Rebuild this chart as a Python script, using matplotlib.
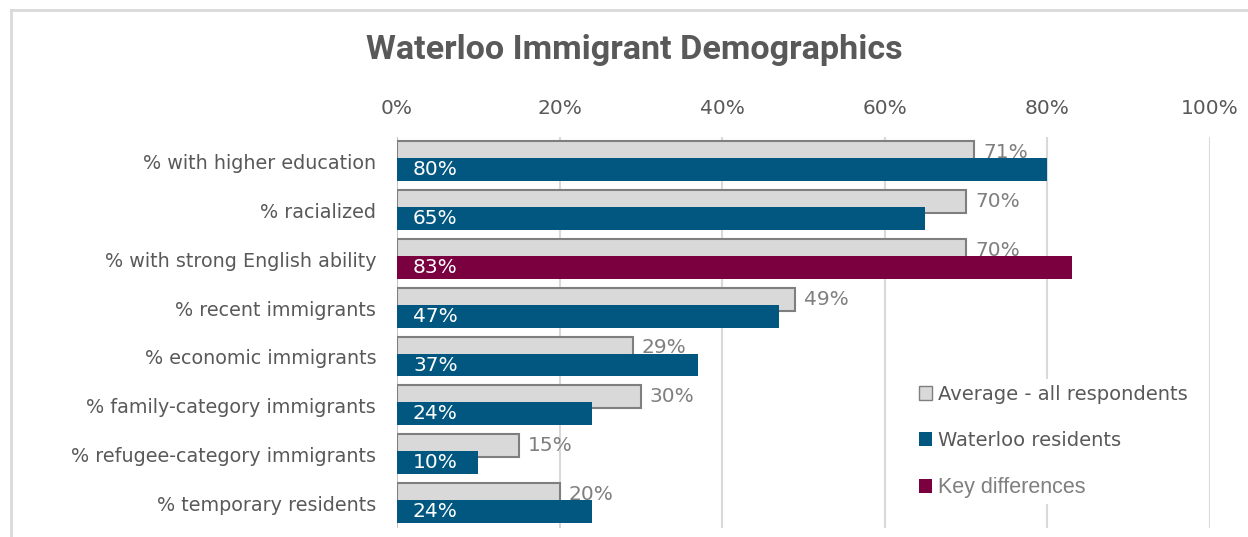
import matplotlib
matplotlib.use("Agg")
import matplotlib.pyplot as plt
from matplotlib.patches import Patch
from matplotlib.lines import Line2D

categories = [
    "% with higher education",
    "% racialized",
    "% with strong English ability",
    "% recent immigrants",
    "% economic immigrants",
    "% family-category immigrants",
    "% refugee-category immigrants",
    "% temporary residents",
]
average_all = [71, 70, 70, 49, 29, 30, 15, 20]
waterloo = [80, 65, 83, 47, 37, 24, 10, 24]
key_difference = [False, False, True, False, False, False, False, False]
x_ticks = [0, 20, 40, 60, 80, 100]
x_tick_labels = ["0%", "20%", "40%", "60%", "80%", "100%"]

FONT = "DejaVu Sans"
GREY_FILL = "#d9d9d9"
GREY_EDGE = "#7f7f7f"
BLUE = "#01577f"
MAROON = "#7a0040"
TXT = "#595959"

fig = plt.figure(figsize=(12.48, 5.37), dpi=100)
ax = fig.add_axes([397 / 1248, 1 - 528 / 537, (1210 - 397) / 1248, (528 - 137) / 537])

ypos = list(range(len(categories)))
h = 0.47
grey_y = [y - 0.183 for y in ypos]
blue_y = [y + 0.165 for y in ypos]

ax.barh(grey_y, average_all, height=h, color=GREY_FILL, edgecolor=GREY_EDGE, linewidth=1.5, zorder=2)
colors = [MAROON if k else BLUE for k in key_difference]
ax.barh(blue_y, waterloo, height=h, color=colors, edgecolor="none", zorder=3)

for y, v in zip(grey_y, average_all):
    ax.annotate(f"{v}%", (v, y), xytext=(6.5, 0), textcoords="offset points",
                ha="left", va="center", fontsize=14.5, color=GREY_EDGE, family=FONT, zorder=4)
for y, v in zip(blue_y, waterloo):
    ax.annotate(f"{v}%", (0, y), xytext=(11.5, 0), textcoords="offset points",
                ha="left", va="center", fontsize=14.5, color="white", family=FONT, zorder=4)

ax.set_xlim(0, 100)
ax.set_ylim(len(categories) - 0.5, -0.5)
ax.set_xticks(x_ticks)
ax.set_xticklabels(x_tick_labels, fontsize=14.5, color=TXT, family=FONT)
ax.xaxis.tick_top()
ax.tick_params(axis="x", length=0, pad=14)
ax.set_yticks(ypos)
ax.set_yticklabels(categories, fontsize=13.8, color=TXT, family=FONT)
ax.tick_params(axis="y", length=0, pad=15)
ax.grid(axis="x", color="#d9d9d9", linewidth=1.5, zorder=0)
ax.set_axisbelow(True)
for s in ax.spines.values():
    s.set_visible(False)
ax.axvline(0, color="#bfbfbf", linewidth=1.2, zorder=1)

fig.text(634 / 1248, 1 - 50 / 537, "Waterloo Immigrant Demographics", ha="center", va="center",
         fontsize=24.6, fontweight="bold", color=TXT, family="Roboto")

# chart frame
fig.add_artist(Line2D([11 / 1248, 1.0], [1 - 10 / 537] * 2, color="#d9d9d9", linewidth=2, transform=fig.transFigure))
fig.add_artist(Line2D([11 / 1248] * 2, [0, 1 - 10 / 537], color="#d9d9d9", linewidth=2, transform=fig.transFigure))

handles = [
    Patch(facecolor=GREY_FILL, edgecolor=GREY_EDGE, linewidth=1),
    Patch(facecolor=BLUE, edgecolor="none"),
    Patch(facecolor=MAROON, edgecolor="none"),
]
labels = ["Average - all respondents", "Waterloo residents", "Key differences"]
leg = fig.legend(handles, labels, loc="upper left", bbox_to_anchor=(903 / 1248, 1 - 369 / 537),
                 frameon=True, facecolor="white", edgecolor="none", framealpha=1,
                 handlelength=0.7, handleheight=0.7, handletextpad=0.3, labelspacing=1.4,
                 borderpad=0.3, prop={"family": FONT, "size": 14})
for t in leg.get_texts():
    t.set_color(TXT)
leg.get_texts()[2].set_color("#7f7f7f")
leg.get_texts()[2].set_family("Liberation Sans")
leg.get_texts()[2].set_size(15.5)

fig.savefig("out.png", dpi=100)
